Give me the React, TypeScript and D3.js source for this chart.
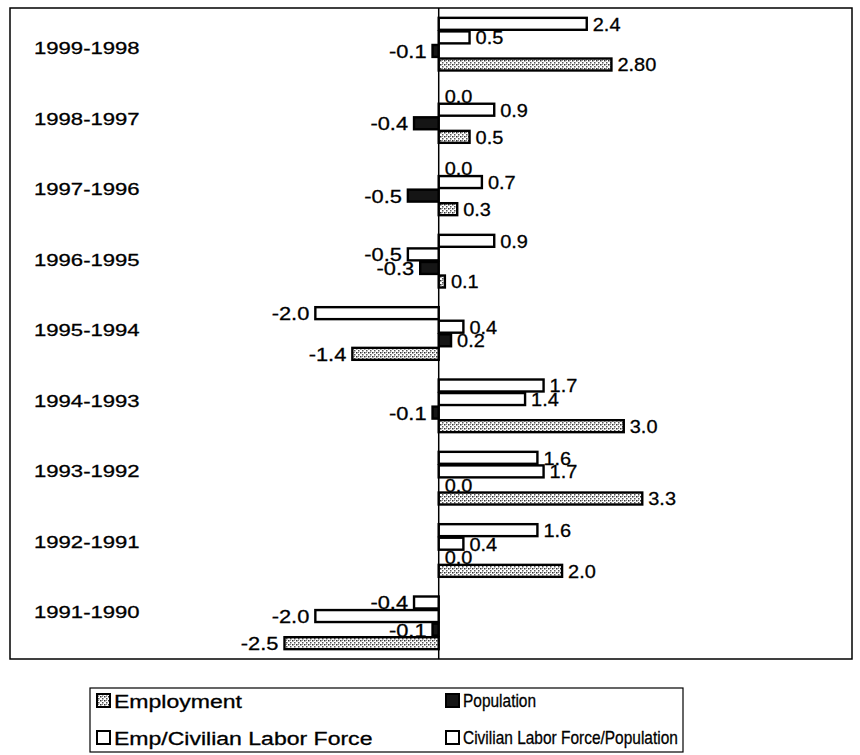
import React from 'react';
import * as d3 from 'd3';

const categories = ['1999-1998', '1998-1997', '1997-1996', '1996-1995', '1995-1994', '1994-1993', '1993-1992', '1992-1991', '1991-1990'];
const employment = [2.8, 0.5, 0.3, 0.1, -1.4, 3.0, 3.3, 2.0, -2.5];
const employmentDecimals = [2, 1, 1, 1, 1, 1, 1, 1, 1];
const population = [-0.1, -0.4, -0.5, -0.3, 0.2, -0.1, 0.0, 0.0, -0.1];
const empClf = [0.5, 0.9, 0.7, -0.5, 0.4, 1.4, 1.7, 0.4, -2.0];
const clfPop = [2.4, 0.0, 0.0, 0.9, -2.0, 1.7, 1.6, 1.6, -0.4];
const seriesNames = ['Employment', 'Population', 'Emp/Civilian Labor Force', 'Civilian Labor Force/Population'];

const W = 860;
const H = 755;
const FONT = 'Arial, "Liberation Sans", Helvetica, sans-serif';

const locale = d3.formatLocale({ decimal: '.', thousands: ',', grouping: [3], currency: ['', ''], minus: '-' });

type Series = { key: string; name: string; values: number[]; decimals?: number[]; fill: string };

const series: Series[] = [
  { key: 'clfPop', name: seriesNames[3], values: clfPop, fill: '#ffffff' },
  { key: 'empClf', name: seriesNames[2], values: empClf, fill: '#ffffff' },
  { key: 'pop', name: seriesNames[1], values: population, fill: '#151515' },
  { key: 'emp', name: seriesNames[0], values: employment, decimals: employmentDecimals, fill: 'url(#empPat)' },
];

function SText(props: { x: number; y: number; sx: number; size: number; anchor?: string; children: React.ReactNode }) {
  const { x, y, sx, size, anchor, children } = props;
  return (
    <text
      transform={`translate(${x},${y}) scale(${sx},1)`}
      fontSize={size}
      fontFamily={FONT}
      textAnchor={anchor || 'start'}
      dominantBaseline="central"
      fill="#000"
      stroke="#000"
      strokeWidth={0.3}
    >
      {children}
    </text>
  );
}

export default function App() {
  const plot = { left: 10, top: 8, right: 852, bottom: 659 };
  const x = d3.scaleLinear().domain([-6.95, 6.7]).range([plot.left, plot.right]);
  const y = d3
    .scaleBand<string>()
    .domain(categories)
    .range([plot.top, plot.bottom])
    .paddingInner(0.25)
    .paddingOuter(0.125);
  const labelY = d3.scalePoint<string>().domain(categories).range([48, 612]);
  const sub = d3
    .scaleBand<string>()
    .domain(series.map((s) => s.key))
    .range([0, y.bandwidth()])
    .padding(0);

  const x0 = x(0);
  const legendOrder = [
    { name: seriesNames[0], fill: 'url(#empPat)' },
    { name: seriesNames[1], fill: '#151515' },
    { name: seriesNames[2], fill: '#ffffff' },
    { name: seriesNames[3], fill: '#ffffff' },
  ];

  return (
    <svg width={W} height={H} style={{ position: 'absolute', left: 0, top: 0, background: '#fff' }}>
      <defs>
        <pattern id="empPat" width="4" height="4" patternUnits="userSpaceOnUse">
          <rect width="4" height="4" fill="#ffffff" />
          <rect x="0" y="0" width="1.5" height="1.5" fill="#333" />
          <rect x="2" y="2" width="1.5" height="1.5" fill="#555" />
          <rect x="2" y="0" width="1" height="1" fill="#888" />
        </pattern>
      </defs>
      <rect x={0} y={0} width={W} height={H} fill="#fff" />
      <rect
        x={plot.left}
        y={plot.top}
        width={plot.right - plot.left}
        height={plot.bottom - plot.top}
        fill="none"
        stroke="#000"
        strokeWidth={1.5}
      />
      {categories.map((c) => (
        <SText key={c} x={34} y={labelY(c) as number} sx={1.3} size={17}>
          {c}
        </SText>
      ))}
      {series.map((s) =>
        categories.map((c, i) => {
          const v = s.values[i];
          const by = (y(c) as number) + (sub(s.key) as number);
          const bh = sub.bandwidth();
          const xa = Math.min(x(v), x0);
          const w = Math.abs(x(v) - x0);
          return (
            <rect
              key={s.key + c}
              x={xa}
              y={by + 0.8}
              width={w}
              height={bh - 1.6}
              fill={s.fill}
              stroke="#000"
              strokeWidth={2.4}
            />
          );
        })
      )}
      <line x1={x0} x2={x0} y1={plot.top} y2={plot.bottom} stroke="#000" strokeWidth={1.5} />
      {series.map((s) =>
        categories.map((c, i) => {
          const v = s.values[i];
          const d = s.decimals ? s.decimals[i] : 1;
          const by = (y(c) as number) + (sub(s.key) as number) + sub.bandwidth() / 2;
          const neg = v < 0;
          const lx = neg ? x(v) - 6 : x(v) + 6;
          return (
            <SText key={'l' + s.key + c} x={lx} y={by} sx={neg ? 1.15 : 1.05} size={19} anchor={neg ? 'end' : 'start'}>
              {locale.format(`.${d}f`)(v)}
            </SText>
          );
        })
      )}
      <rect x={90} y={688} width={593} height={64} fill="none" stroke="#000" strokeWidth={1.2} />
      {legendOrder.map((l, i) => {
        const col = i % 2;
        const row = Math.floor(i / 2);
        const ix = col === 0 ? 97 : 446;
        const cy = row === 0 ? 701 : 738;
        return (
          <g key={l.name}>
            <rect x={ix} y={cy - 7} width={13} height={13} fill={l.fill} stroke="#000" strokeWidth={2} />
            <SText x={ix + 17} y={cy} sx={col === 0 ? 1.28 : 0.86} size={18}>
              {l.name}
            </SText>
          </g>
        );
      })}
    </svg>
  );
}
